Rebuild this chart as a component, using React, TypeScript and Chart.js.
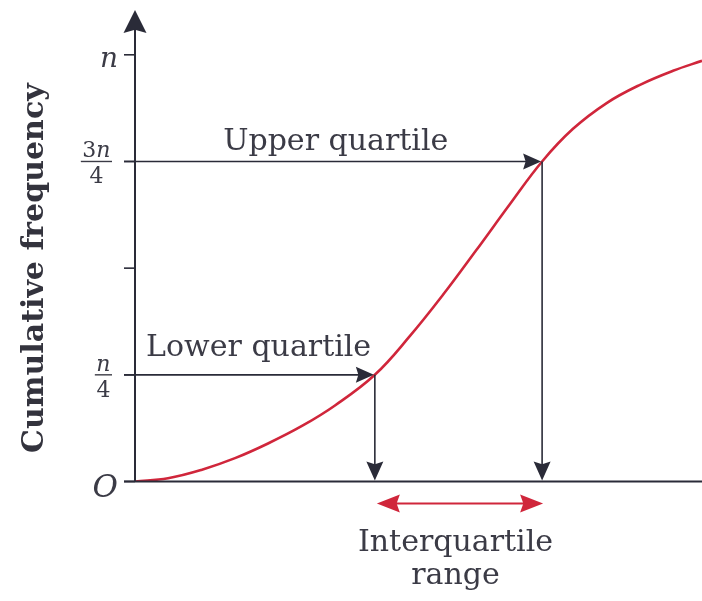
import React, { useEffect, useRef } from "react";
import { Chart, registerables } from "chart.js";

Chart.register(...registerables);

// ---- data ----
const classValues = [0, 5.82, 11.82, 17.64, 23.46, 29.45, 35.27, 42.3, 48.5, 54.32, 60.14, 66.14, 71.8, 77.25, 83.25, 89.07, 94.89, 100];
const cumulativeFrequency = [0, 0.0077, 0.0277, 0.0547, 0.0891, 0.1301, 0.1782, 0.25, 0.3411, 0.4375, 0.5412, 0.6504, 0.75, 0.8265, 0.8875, 0.9297, 0.9625, 0.9859];
const quartileFractions = [0.25, 0.75];
const quartileValues = [42.3, 71.8];
const quartileLabels = ["Lower quartile", "Upper quartile"];
const quartileLabelCenters = [21.8, 35.4];
const yTickValues = [0, 0.25, 0.5, 0.75, 1];
const yTickLabels = ["O", "n/4", "", "3n/4", "n"];
const yAxisTitle = "Cumulative frequency";
const rangeLabel = ["Interquartile", "range"];

const C_DARK = "#2a2b38";
const C_RED = "#d0263b";
const C_TEXT = "#3b3b46";
const SERIF = "'DejaVu Serif', serif";

function arrowHead(ctx: CanvasRenderingContext2D, tx: number, ty: number, angle: number, len: number, half: number, color: string) {
  ctx.save();
  ctx.translate(tx, ty);
  ctx.rotate(angle);
  ctx.beginPath();
  ctx.moveTo(0, 0);
  ctx.lineTo(-len, -half);
  ctx.lineTo(-len * 0.86, 0);
  ctx.lineTo(-len, half);
  ctx.closePath();
  ctx.fillStyle = color;
  ctx.fill();
  ctx.restore();
}

function line(ctx: CanvasRenderingContext2D, x1: number, y1: number, x2: number, y2: number) {
  ctx.beginPath();
  ctx.moveTo(x1, y1);
  ctx.lineTo(x2, y2);
  ctx.stroke();
}

function fontFor(ch: string, size: number) {
  return /[0-9]/.test(ch) ? `${size}px ${SERIF}` : `italic ${size}px ${SERIF}`;
}

function measureMixed(ctx: CanvasRenderingContext2D, text: string, size: number) {
  let w = 0;
  text.split("").forEach((ch) => {
    ctx.font = fontFor(ch, size);
    w += ctx.measureText(ch).width;
  });
  return w;
}

function drawMixed(ctx: CanvasRenderingContext2D, text: string, size: number, cx: number, baseline: number) {
  const total = measureMixed(ctx, text, size);
  let x = cx - total / 2;
  ctx.textAlign = "left";
  text.split("").forEach((ch) => {
    ctx.font = fontFor(ch, size);
    ctx.fillText(ch, x, baseline);
    x += ctx.measureText(ch).width;
  });
}

const diagramPlugin = {
  id: "diagram",
  afterDatasetsDraw(chart: any) {
    const { ctx, chartArea, scales } = chart;
    const xs = scales.x;
    const ys = scales.y;
    const x0 = xs.getPixelForValue(0);
    const y0 = ys.getPixelForValue(0);
    ctx.save();
    ctx.lineCap = "butt";

    // axes
    ctx.strokeStyle = C_DARK;
    ctx.lineWidth = 2;
    line(ctx, x0, y0, x0, chartArea.top + 18);
    arrowHead(ctx, x0, chartArea.top, -Math.PI / 2, 23, 11.5, C_DARK);
    line(ctx, x0 - 11, y0, chartArea.right, y0);

    // ticks
    ctx.lineWidth = 1.6;
    yTickValues.forEach((v) => {
      const py = ys.getPixelForValue(v);
      line(ctx, x0 - 11, py, x0, py);
    });

    // quartile arrows
    ctx.lineWidth = 1.6;
    quartileFractions.forEach((f, i) => {
      const py = ys.getPixelForValue(f);
      const px = xs.getPixelForValue(quartileValues[i]);
      line(ctx, x0 - 11, py, px - 14, py);
      arrowHead(ctx, px - 1, py, 0, 18, 8, C_DARK);
      line(ctx, px, py, px, y0 - 14);
      arrowHead(ctx, px, y0 - 1, Math.PI / 2, 19, 8.5, C_DARK);
    });

    // interquartile range double arrow
    const qa = xs.getPixelForValue(quartileValues[0]) + 2;
    const qb = xs.getPixelForValue(quartileValues[1]) + 1;
    const ry = y0 + 22;
    ctx.strokeStyle = C_RED;
    ctx.lineWidth = 2;
    line(ctx, qa + 15, ry, qb - 15, ry);
    arrowHead(ctx, qa, ry, Math.PI, 23, 9, C_RED);
    arrowHead(ctx, qb, ry, 0, 23, 9, C_RED);

    // quartile labels
    ctx.fillStyle = C_TEXT;
    ctx.font = `30px ${SERIF}`;
    ctx.textAlign = "center";
    ctx.textBaseline = "alphabetic";
    const lblOffsets = [19, 11];
    quartileFractions.forEach((f, i) => {
      const py = ys.getPixelForValue(f);
      ctx.fillText(quartileLabels[i], xs.getPixelForValue(quartileLabelCenters[i]), py - lblOffsets[i]);
    });

    // range label
    const mid = (xs.getPixelForValue(quartileValues[0]) + xs.getPixelForValue(quartileValues[1])) / 2 - 3;
    ctx.fillText(rangeLabel[0], mid, y0 + 69);
    ctx.fillText(rangeLabel[1], mid, y0 + 102);

    // y tick labels
    ctx.fillStyle = C_TEXT;
    yTickValues.forEach((v, i) => {
      const label = yTickLabels[i];
      if (!label) return;
      const py = ys.getPixelForValue(v);
      if (label.includes("/")) {
        const [num, den] = label.split("/");
        const right = x0 - 23;
        const w = measureMixed(ctx, num, 22);
        const barW = w + 3;
        const cx = right - barW / 2;
        drawMixed(ctx, num, 22, cx, py - 4);
        ctx.strokeStyle = C_TEXT;
        ctx.lineWidth = 1.4;
        line(ctx, cx - barW / 2, py, cx + barW / 2, py);
        drawMixed(ctx, den, 22, cx, py + 22);
      } else if (label === "O") {
        ctx.font = `italic 31px ${SERIF}`;
        ctx.textAlign = "right";
        ctx.fillText(label, x0 - 17, py + 15);
      } else {
        ctx.font = `italic 28px ${SERIF}`;
        ctx.textAlign = "right";
        ctx.fillText(label, x0 - 17, py + 12);
      }
    });

    // y axis title
    ctx.save();
    const cy = (ys.getPixelForValue(0) + ys.getPixelForValue(1)) / 2;
    ctx.translate(43, cy);
    ctx.rotate(-Math.PI / 2);
    ctx.font = `bold 30px ${SERIF}`;
    ctx.fillStyle = "#33333d";
    ctx.textAlign = "center";
    ctx.textBaseline = "alphabetic";
    ctx.fillText(yAxisTitle, 0, 0);
    ctx.restore();

    ctx.restore();
  },
};

export default function App() {
  const canvasRef = useRef<HTMLCanvasElement | null>(null);

  useEffect(() => {
    if (!canvasRef.current) return;
    const chart = new Chart(canvasRef.current, {
      type: "line",
      data: {
        datasets: [
          {
            data: classValues.map((x, i) => ({ x, y: cumulativeFrequency[i] })),
            borderColor: C_RED,
            borderWidth: 2.6,
            pointRadius: 0,
            tension: 0.4,
            fill: false,
          },
        ],
      },
      options: {
        responsive: false,
        animation: false,
        devicePixelRatio: 1,
        layout: { padding: { left: 135, right: 0, top: 10, bottom: 119.5 } },
        plugins: { legend: { display: false }, tooltip: { enabled: false } },
        scales: {
          x: { type: "linear", min: 0, max: 100, display: false },
          y: { type: "linear", min: 0, max: 1.105, display: false },
        },
      },
      plugins: [diagramPlugin],
    } as any);
    return () => chart.destroy();
  }, []);

  return (
    <div style={{ position: "fixed", left: 0, top: 0, width: 702, height: 601, background: "#fff" }}>
      <canvas ref={canvasRef} width={702} height={601} style={{ display: "block" }} />
    </div>
  );
}
